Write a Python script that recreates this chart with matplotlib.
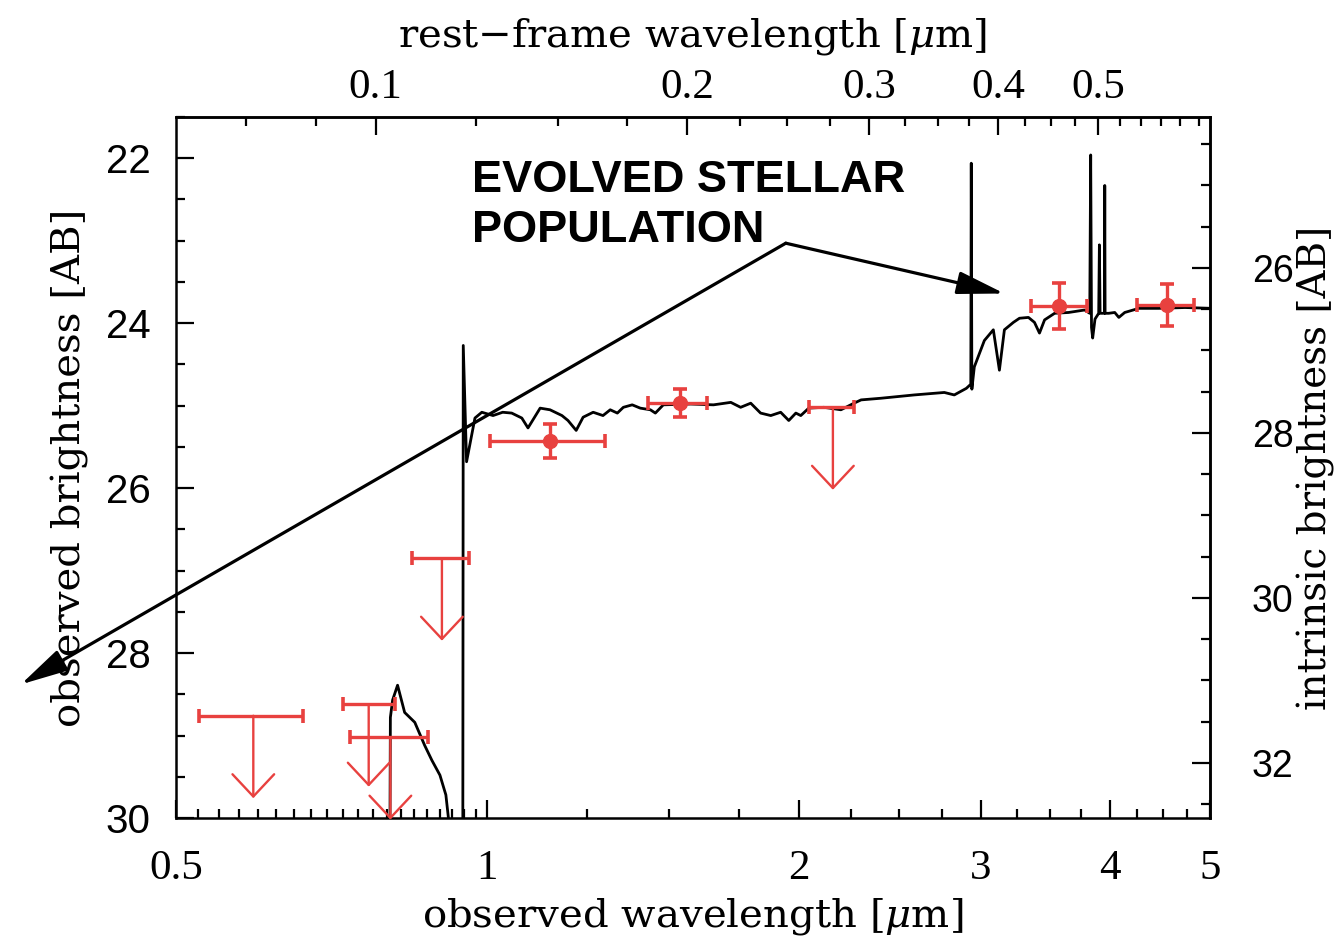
import matplotlib
matplotlib.use("Agg")
import matplotlib.pyplot as plt
import numpy as np
from matplotlib.ticker import FixedLocator, MultipleLocator, NullFormatter

plt.rcParams['mathtext.fontset'] = 'dejavuserif'

# model spectrum (observed wavelength in micron, AB mag)
spec_wave = [0.49, 0.805, 0.806, 0.810, 0.819, 0.832, 0.851, 0.870, 0.884, 0.900,
             0.912, 0.920, 0.947, 0.948, 0.955, 0.973, 0.988, 1.013, 1.035, 1.056,
             1.080, 1.095, 1.125, 1.150, 1.181, 1.197, 1.219, 1.238, 1.266, 1.294,
             1.315, 1.336, 1.354, 1.381, 1.406, 1.438, 1.454, 1.480, 1.573, 1.655,
             1.720, 1.758, 1.798, 1.838, 1.880, 1.922, 1.957, 1.988, 2.010, 2.046,
             2.116, 2.198, 2.263, 2.299, 2.403, 2.587, 2.767, 2.829, 2.906, 2.935,
             2.938, 2.942, 2.958, 3.025, 3.086, 3.128, 3.163, 3.227, 3.271, 3.337,
             3.382, 3.420, 3.459, 3.537, 3.649, 3.782, 3.825, 3.833, 3.840, 3.850,
             3.870, 3.902, 3.908, 3.914, 3.952, 3.955, 3.958, 3.990, 4.044, 4.081,
             4.135, 4.267, 4.462, 4.728, 5.02]
spec_mag = [30.6, 30.6, 28.78, 28.57, 28.39, 28.72, 28.84, 29.12, 29.30, 29.48,
            29.72, 30.15, 30.6, 24.27, 25.68, 25.15, 25.08, 25.12, 25.08, 25.09,
            25.15, 25.27, 25.03, 25.05, 25.12, 25.18, 25.30, 25.14, 25.08, 25.12,
            25.05, 25.09, 25.02, 24.99, 25.03, 25.05, 25.09, 24.99, 24.98, 24.99,
            24.96, 25.02, 24.97, 25.09, 25.12, 25.08, 25.18, 25.09, 25.12, 25.03,
            25.02, 25.05, 24.97, 24.93, 24.91, 24.87, 24.84, 24.87, 24.79, 24.74,
            22.06, 24.80, 24.53, 24.21, 24.08, 24.57, 24.08, 23.99, 23.94, 23.93,
            23.99, 24.12, 23.96, 23.88, 23.87, 23.84, 23.88, 21.96, 24.05, 24.18,
            23.95, 23.88, 23.05, 23.88, 23.88, 22.33, 23.88, 23.88, 23.87, 23.93,
            23.87, 23.82, 23.82, 23.81, 23.82]

# photometric detections
det_wave = [1.150, 1.537, 3.569, 4.542]
det_wave_lo = [1.006, 1.431, 3.353, 4.248]
det_wave_hi = [1.300, 1.630, 3.800, 4.825]
det_mag = [25.43, 24.97, 23.79, 23.78]
det_err = [0.21, 0.17, 0.28, 0.26]

# upper limits
lim_wave = [0.594, 0.768, 0.806, 0.904, 2.159]
lim_wave_lo = [0.526, 0.725, 0.736, 0.845, 2.046]
lim_wave_hi = [0.663, 0.814, 0.876, 0.960, 2.263]
lim_mag = [28.76, 28.62, 29.02, 26.85, 25.02]

one_plus_z = 7.8
mag_offset = 2.67

RED = '#e8413f'
SERIF = 'Liberation Serif'
SANS = 'Liberation Sans'
LABELFONT = 'DejaVu Serif'

fig = plt.figure(figsize=(13.39, 9.46), dpi=100)
ax = fig.add_axes([0.1314, 0.1353, 0.7723, 0.741])

ax.plot(spec_wave, spec_mag, color='black', lw=2.0, zorder=3)

ax.errorbar(det_wave, det_mag,
            xerr=[np.subtract(det_wave, det_wave_lo), np.subtract(det_wave_hi, det_wave)],
            yerr=det_err, fmt='o', color=RED, ms=10, elinewidth=2.4,
            capsize=5, capthick=2.6, zorder=4)
ax.errorbar(lim_wave, lim_mag,
            xerr=[np.subtract(lim_wave, lim_wave_lo), np.subtract(lim_wave_hi, lim_wave)],
            fmt='none', ecolor=RED, elinewidth=2.4, capsize=5, capthick=2.6, zorder=4)
for w, m in zip(lim_wave, lim_mag):
    ax.annotate('', xy=(w, m + 1.0), xytext=(w, m),
                arrowprops=dict(arrowstyle='->,head_length=0.8,head_width=0.75',
                                color=RED, lw=1.7, shrinkA=0, shrinkB=0,
                                mutation_scale=20),
                annotation_clip=False, zorder=4)

# evolved stellar population label + arrows
ax.text(0.966, 22.41, 'EVOLVED STELLAR', fontsize=32.5, fontweight='bold',
        family=SANS, ha='left', va='baseline')
ax.text(0.966, 23.02, 'POPULATION', fontsize=32.5, fontweight='bold',
        family=SANS, ha='left', va='baseline')
for tip in [(3.163, 23.64), (0.354, 28.38)]:
    ax.annotate('', xy=tip, xytext=(1.944, 23.03),
                arrowprops=dict(arrowstyle='-|>,head_length=1.45,head_width=0.35',
                                color='black', lw=2.3, shrinkA=0, shrinkB=0,
                                mutation_scale=20),
                annotation_clip=False, zorder=5)

ax.set_xscale('log')
ax.set_xlim(0.5, 5.0)
ax.set_ylim(30.0, 21.5)

ax.xaxis.set_major_locator(FixedLocator([0.5, 1, 2, 3, 4, 5]))
ax.set_xticklabels(['0.5', '1', '2', '3', '4', '5'])
ax.xaxis.set_minor_locator(FixedLocator(list(np.arange(0.525, 0.99, 0.025)) +
                                        list(np.arange(1.25, 4.9, 0.25))))
ax.xaxis.set_minor_formatter(NullFormatter())
ax.yaxis.set_major_locator(FixedLocator([22, 24, 26, 28, 30]))
ax.yaxis.set_minor_locator(MultipleLocator(0.5))

ax.tick_params(which='both', direction='in', top=False, right=False, width=1.6)
ax.tick_params(which='major', length=13)
ax.tick_params(which='minor', length=6.5)
ax.tick_params(axis='x', labelsize=31, labelfontfamily=SERIF, pad=23)
ax.tick_params(axis='y', labelsize=29, labelfontfamily=SANS, pad=18)
for s in ax.spines.values():
    s.set_linewidth(1.8)

ax.set_xlabel(r'observed wavelength [$\mu$m]', fontsize=29, family=LABELFONT)
ax.xaxis.set_label_coords(0.5, -0.111)
ax.set_ylabel('observed brightness [AB]', fontsize=29, family=LABELFONT)
ax.yaxis.set_label_coords(-0.084, 0.5)

secx = ax.secondary_xaxis('top', functions=(lambda w: w / one_plus_z, lambda w: w * one_plus_z))
secx.xaxis.set_major_locator(FixedLocator([0.1, 0.2, 0.3, 0.4, 0.5]))
secx.set_xticklabels(['0.1', '0.2', '0.3', '0.4', '0.5'])
secx.xaxis.set_minor_locator(FixedLocator(list(np.arange(0.0625, 0.099, 0.0125)) +
                                          list(np.arange(0.125, 0.65, 0.025))))
secx.xaxis.set_minor_formatter(NullFormatter())
secx.tick_params(which='both', direction='in', width=1.6)
secx.tick_params(which='major', length=13)
secx.tick_params(which='minor', length=6.5)
secx.tick_params(axis='x', labelsize=31, labelfontfamily=SERIF, pad=7)
secx.set_xlabel(r'rest$-$frame wavelength [$\mu$m]', fontsize=29, family=LABELFONT)
secx.xaxis.set_label_coords(0.5, 1.100, transform=ax.transAxes)
secx.spines['top'].set_linewidth(1.8)

secy = ax.secondary_yaxis('right', functions=(lambda m: m + mag_offset, lambda m: m - mag_offset))
secy.yaxis.set_major_locator(FixedLocator([26, 28, 30, 32]))
secy.yaxis.set_minor_locator(FixedLocator(np.arange(24.5, 32.6, 0.5)))
secy.yaxis.set_minor_formatter(NullFormatter())
secy.tick_params(which='both', direction='in', width=1.6)
secy.tick_params(which='major', length=13)
secy.tick_params(which='minor', length=6.5)
secy.tick_params(axis='y', labelsize=27, labelfontfamily=SANS, pad=30)
secy.set_ylabel('intrinsic brightness [AB]', fontsize=28, family=LABELFONT)
secy.yaxis.set_label_coords(1.084, 0.5, transform=ax.transAxes)
secy.spines['right'].set_linewidth(1.8)

fig.savefig('out.png', dpi=100)
